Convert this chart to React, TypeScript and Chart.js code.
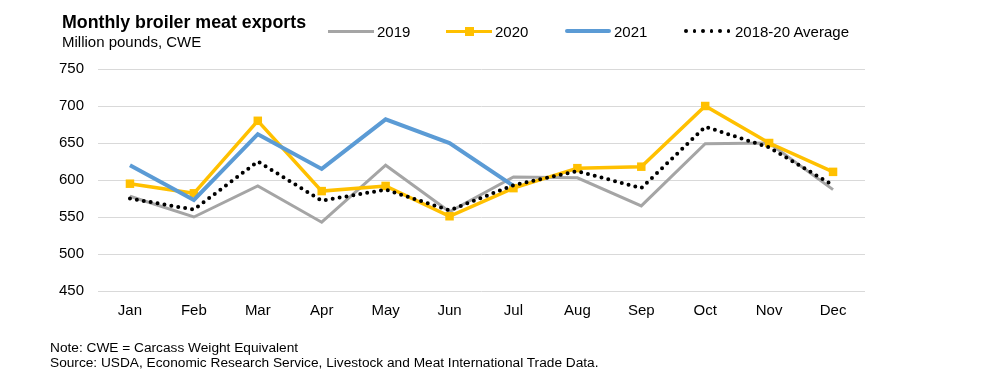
import React, { useEffect, useRef } from "react";
import { Chart, registerables } from "chart.js";

Chart.register(...registerables);

const months = ["Jan", "Feb", "Mar", "Apr", "May", "Jun", "Jul", "Aug", "Sep", "Oct", "Nov", "Dec"];
const s2019 = [578, 550, 592, 543, 620, 557, 604, 603, 565, 649, 650, 587];
const s2020 = [595, 582, 680, 585, 592, 551, 589, 616, 618, 700, 650, 611];
const s2021 = [620, 573, 662, 615, 682, 650, 592, null, null, null, null, null];
const sAvg = [575, 560, 625, 572, 587, 559, 593, 612, 589, 672, 644, 593];
const yTicks = [450, 500, 550, 600, 650, 700, 750];

const FONT = "'Liberation Sans', Arial, sans-serif";

export default function App() {
  const ref = useRef<HTMLCanvasElement>(null);
  useEffect(() => {
    document.body.style.margin = "0";
    const ctx = ref.current!;
    const chart = new Chart(ctx, {
      type: "line",
      data: {
        labels: months,
        datasets: [
          {
            label: "2018-20 Average",
            data: sAvg,
            borderColor: "#000000",
            borderWidth: 4,
            borderDash: [0, 7],
            borderCapStyle: "round",
            pointRadius: 0,
            order: 0,
          },
          {
            label: "2021",
            data: s2021,
            borderColor: "#5B9BD5",
            borderWidth: 4,
            pointRadius: 0,
            order: 1,
          },
          {
            label: "2020",
            data: s2020,
            borderColor: "#FFC000",
            backgroundColor: "#FFC000",
            borderWidth: 3.5,
            pointStyle: "rect",
            pointRadius: 6,
            pointBorderWidth: 0,
            order: 2,
          },
          {
            label: "2019",
            data: s2019,
            borderColor: "#A5A5A5",
            borderWidth: 3,
            pointRadius: 0,
            order: 3,
          },
        ],
      },
      options: {
        animation: false,
        responsive: false,
        devicePixelRatio: 1,
        layout: { padding: { left: 0, right: 120, top: 69, bottom: 60 } },
        plugins: { legend: { display: false }, tooltip: { enabled: false }, title: { display: false } },
        scales: {
          x: {
            offset: true,
            grid: { display: false, drawTicks: false },
            border: { display: false },
            ticks: { color: "#000", font: { family: FONT, size: 15 }, padding: 11, maxRotation: 0 },
            afterFit: (s: any) => { s.height = 385 - 291 - 60; },
          },
          y: {
            min: 450,
            max: 750,
            afterBuildTicks: (s: any) => { s.ticks = yTicks.map((v) => ({ value: v })); },
            grid: { color: "#D9D9D9", lineWidth: 1, drawTicks: false },
            border: { display: false },
            ticks: { color: "#000", font: { family: FONT, size: 15 }, padding: 14 },
            afterFit: (s: any) => { s.width = 98; },
          },
        },
      },
    });
    return () => chart.destroy();
  }, []);

  const legendItem = (left: number, label: string, line: React.ReactNode) => (
    <div style={{ position: "absolute", left, top: 22, height: 18, display: "flex", alignItems: "center" }}>
      {line}
      <span style={{ marginLeft: 3, fontSize: 15, color: "#000" }}>{label}</span>
    </div>
  );

  return (
    <div style={{ position: "relative", width: 985, height: 385, fontFamily: FONT, background: "#fff" }}>
      <canvas ref={ref} width={985} height={385} style={{ position: "absolute", left: 0, top: 0 }} />
      <div style={{ position: "absolute", left: 62, top: 12, fontSize: 17.8, fontWeight: "bold", color: "#000" }}>
        Monthly broiler meat exports
      </div>
      <div style={{ position: "absolute", left: 62, top: 33, fontSize: 15, color: "#000" }}>Million pounds, CWE</div>
      {legendItem(328, "2019", <div style={{ width: 46, height: 3, background: "#A5A5A5" }} />)}
      {legendItem(446, "2020",
        <div style={{ position: "relative", width: 46, height: 3, background: "#FFC000" }}>
          <div style={{ position: "absolute", left: 19, top: -3, width: 9, height: 9, background: "#FFC000" }} />
        </div>)}
      {legendItem(565, "2021", <div style={{ width: 46, height: 4, background: "#5B9BD5", borderRadius: 2 }} />)}
      {legendItem(684, "2018-20 Average",
        <div style={{ display: "flex", width: 46, justifyContent: "space-between", paddingRight: 2 }}>
          {[0, 1, 2, 3, 4, 5].map((i) => (
            <div key={i} style={{ width: 3.5, height: 3.5, borderRadius: 2, background: "#000" }} />
          ))}
        </div>)}
      <div style={{ position: "absolute", left: 50, top: 340, fontSize: 13.7, color: "#000", lineHeight: "15px", whiteSpace: "nowrap" }}>
        Note: CWE = Carcass Weight Equivalent
        <br />
        Source: USDA, Economic Research Service, Livestock and Meat International Trade Data.
      </div>
    </div>
  );
}
